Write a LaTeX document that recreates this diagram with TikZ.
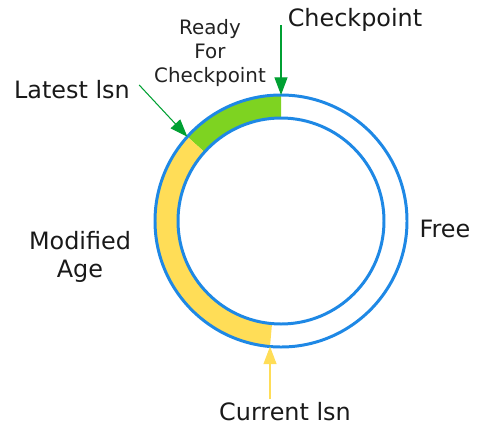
\documentclass[tikz,border=0pt]{standalone}
\usepackage{fontspec}
\setmainfont{DejaVu Sans}
\usepackage{tikz}
\usetikzlibrary{arrows.meta,positioning,calc}
\definecolor{ringblue}{HTML}{1E88E5}
\definecolor{ringgreen}{HTML}{7ED321}
\definecolor{ringyellow}{HTML}{FFDD57}
\definecolor{arrowgreen}{HTML}{00A032}
\definecolor{txtdark}{HTML}{222222}

\begin{document}
\begin{tikzpicture}[
    x=0.02cm,y=0.02cm,
    lbl/.style  = {font=\fontsize{13.6}{15.5}\selectfont,text=black!90,align=center,inner sep=0pt},
    sml/.style  = {font=\fontsize{11.3}{13.6}\selectfont,text=txtdark,align=center,inner sep=0pt},
    ring/.style = {draw=ringblue,line width=1.7pt},
    arw/.style  = {-{Triangle[length=10pt,width=7.4pt]},line width=0.6pt},
  ]
  \useasboundingbox (0,0) rectangle (500,434);

  % Bands of the log ring
  \coordinate (c) at (281,213);
  \fill[ringgreen] ($(c)+(90:126)$) arc[start angle=90,end angle=138,radius=126]
    -- ($(c)+(138:103)$) arc[start angle=138,end angle=90,radius=103] -- cycle;
  \fill[ringyellow] ($(c)+(138:126)$) arc[start angle=138,end angle=265,radius=126]
    -- ($(c)+(265:103)$) arc[start angle=265,end angle=138,radius=103] -- cycle;
  \draw[ring] (c) circle[radius=126];
  \draw[ring] (c) circle[radius=103];

  % Labels
  \node[lbl] (ckpt)   at (355,414) {Checkpoint};
  \node[sml] (ready)  at (210,381) {Ready\\ For\\ Checkpoint};
  \node[lbl] (latest) at (72,344)  {Latest lsn};
  \node[lbl] (modage) at (80,177)  {Modified\\ Age};
  \node[lbl] (free)   at (445,205) {Free};
  \node[lbl] (cur)    at (285,22)  {Current lsn};

  % Pointers onto the ring
  \coordinate (ckptring)   at ($(c)+(90:126)$);
  \coordinate (latestring) at ($(c)+(138:126)$);
  \coordinate (curring)    at ($(c)+(265:126)$);
  \draw[arw,arrowgreen] ($(ckptring |- ckpt)+(0,-5)$) -- (ckptring);
  \draw[arw,arrowgreen] ($(latest.east)+(9,5)$) -- (latestring);
  \draw[arw,ringyellow] ($(curring |- cur.north)+(0,3)$) -- (curring);

\end{tikzpicture}
\end{document}
